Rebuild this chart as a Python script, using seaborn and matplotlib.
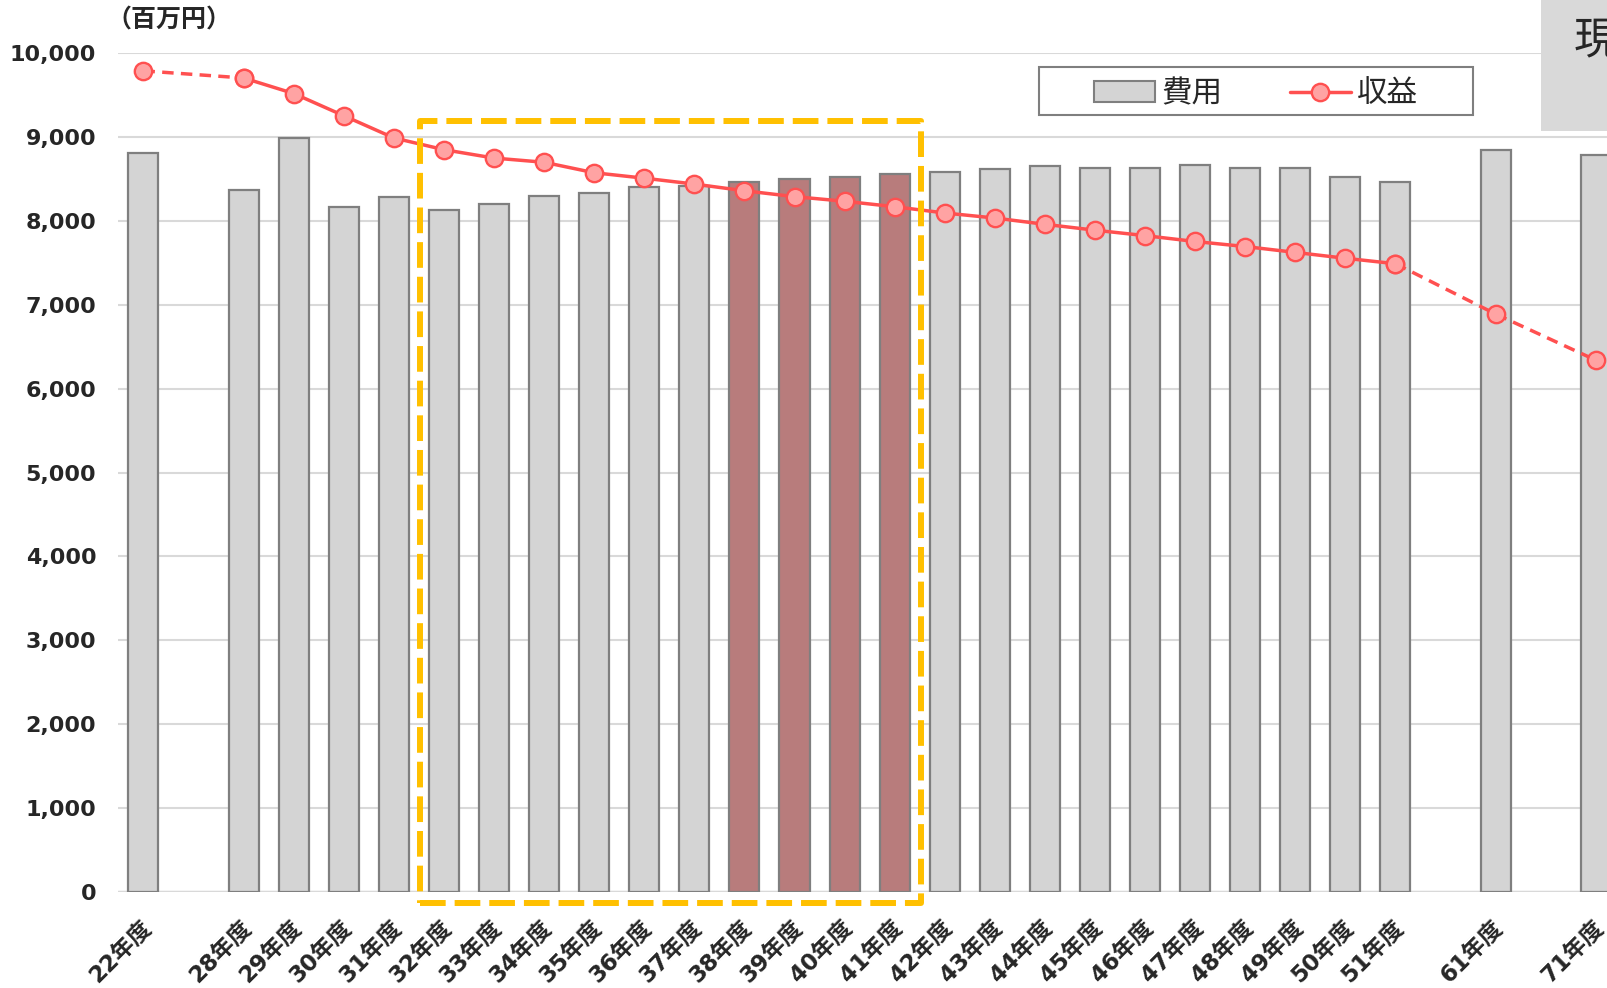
import matplotlib
matplotlib.use('Agg')
import matplotlib.pyplot as plt
import matplotlib.transforms as mtransforms
from matplotlib.patches import Rectangle, Patch
from matplotlib.lines import Line2D
from matplotlib.ticker import FuncFormatter
import seaborn as sns
import pandas as pd

# data (百万円)
years = ['22年度', '28年度', '29年度', '30年度', '31年度', '32年度', '33年度', '34年度',
         '35年度', '36年度', '37年度', '38年度', '39年度', '40年度', '41年度', '42年度',
         '43年度', '44年度', '45年度', '46年度', '47年度', '48年度', '49年度', '50年度',
         '51年度', '61年度', '71年度']
cost = [8810, 8375, 8995, 8165, 8280, 8135, 8200, 8300, 8335, 8410, 8415, 8460, 8500,
        8530, 8560, 8585, 8620, 8650, 8635, 8635, 8670, 8635, 8635, 8520, 8470, 8845, 8790]
revenue = [9790, 9705, 9520, 9255, 8990, 8850, 8750, 8700, 8575, 8510, 8440, 8360, 8290,
           8235, 8170, 8095, 8035, 7960, 7890, 7825, 7755, 7695, 7625, 7555, 7490, 6890, 6340]
focus_years = ['38年度', '39年度', '40年度', '41年度']

# slot on the category axis (empty slots between 22/28, 51/61, 61/71)
slots = [0] + list(range(2, 26)) + [27, 29]

df = pd.DataFrame({'year': years, 'slot': slots, 'cost': cost, 'revenue': revenue})
df['group'] = ['focus' if y in focus_years else 'base' for y in df['year']]

sns.set_theme(style='white')
plt.rcParams['font.family'] = ['DejaVu Sans', 'Noto Sans CJK JP']

GRAY = '#D4D4D4'
EDGE = '#7F7F7F'
RED = '#FF5050'
PINK = '#FFA3A3'

fig = plt.figure(figsize=(16.07, 9.88), dpi=100)
ax = fig.add_axes([0.0737, 0.0974, 0.9349, 0.8487])

sns.barplot(data=df, x='slot', y='cost', hue='group', palette={'base': GRAY, 'focus': '#B87C7C'},
            native_scale=True, width=0.6, dodge=False, legend=False, errorbar=None,
            saturation=1, edgecolor=EDGE, linewidth=1.6, ax=ax)

line_kw = dict(color=RED, lw=2.5, marker='o', markersize=12.5, markerfacecolor=PINK,
               markeredgecolor=RED, markeredgewidth=1.7)
first = df.iloc[0:2]
mid = df.iloc[1:25]
last = df.iloc[24:27]
sns.lineplot(x=first['slot'], y=first['revenue'], dashes=False, linestyle=(0, (3.3, 2.1)), ax=ax, **line_kw)
sns.lineplot(x=mid['slot'], y=mid['revenue'], ax=ax, **line_kw)
sns.lineplot(x=last['slot'], y=last['revenue'], dashes=False, linestyle=(0, (3.3, 2.1)), ax=ax, **line_kw)

ax.set_xlim(-0.5, 29.5)
ax.set_ylim(0, 10000)
ax.set_yticks(range(0, 10001, 1000))
ax.yaxis.set_major_formatter(FuncFormatter(lambda v, p: f'{int(v):,}'))
ax.set_axisbelow(True)
ax.yaxis.grid(True, color='#D9D9D9', lw=1.5)
ax.xaxis.grid(False)
for s in ax.spines.values():
    s.set_visible(False)
ax.axhline(0, color='#D9D9D9', lw=2.5, zorder=0.5)
ax.set_xlabel('')
ax.set_ylabel('')
ax.tick_params(axis='y', length=0, pad=16, labelsize=16)
ax.tick_params(axis='x', length=0, pad=17, labelsize=16.5)
for t in ax.get_yticklabels():
    t.set_fontweight('bold')

ax.set_xticks(slots)
ax.set_xticklabels(years, rotation=45, ha='right', va='top', rotation_mode='anchor',
                   fontweight='bold')
shift = mtransforms.ScaledTranslation(-4 / 100, 0, fig.dpi_scale_trans)
for t in ax.get_xticklabels():
    t.set_transform(t.get_transform() + shift)

# highlighted period box
box = Rectangle((5.53, -134), 15.52 - 5.53, 9190 + 134, fill=False, edgecolor='#FFC000',
                lw=4.3, linestyle=(0, (4.3, 1.5)), joinstyle='round', clip_on=False, zorder=3)
ax.add_patch(box)

# unit label
fig.text(0.066, 0.979, '（百万円）', fontsize=18, fontweight='bold', ha='left', va='center',
         family=['Noto Sans CJK JP', 'DejaVu Sans'])

# legend with its own frame
fig.patches.append(Rectangle((0.6465, 0.8836), 0.2701, 0.0486, transform=fig.transFigure,
                             facecolor='white', edgecolor=EDGE, lw=1.5, zorder=5))
handles = [Patch(facecolor=GRAY, edgecolor=EDGE, lw=1.5, label='費用'),
           Line2D([0], [0], label='収益', **line_kw)]
fig.legend(handles=handles, loc='center', bbox_to_anchor=(0.6465 + 0.2701 / 2, 0.8836 + 0.0486 / 2 - 0.003),
           ncol=2, frameon=False, handlelength=2.0, handletextpad=0.2, columnspacing=2.2,
           prop={'family': ['Noto Sans CJK JP'], 'size': 22})

# cut-off side box at the top right
fig.patches.append(Rectangle((0.959, 0.8677), 0.05, 0.14, transform=fig.transFigure,
                             facecolor='#D9D9D9', edgecolor='none', zorder=5))
fig.text(0.9795, 0.9595, '現', fontsize=32, ha='left', va='center', zorder=6,
         family=['Noto Sans CJK JP'])

fig.savefig('out.png', dpi=100)
plt.close(fig)
